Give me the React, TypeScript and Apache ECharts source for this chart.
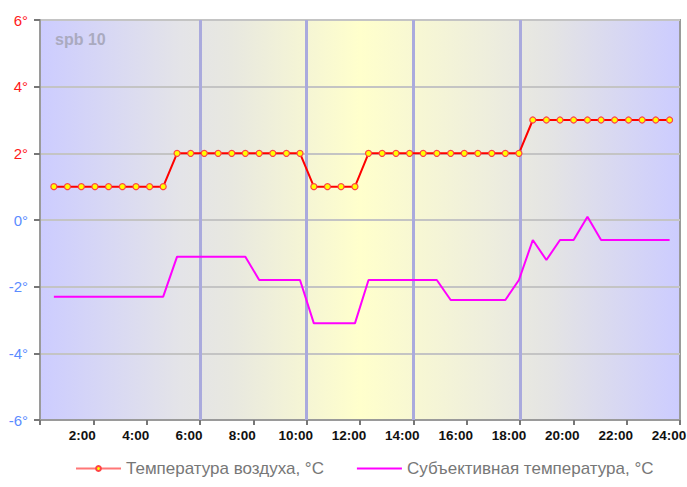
import React, { useEffect, useRef } from "react";
import * as echarts from "echarts";

const times = [
  0.52, 1.03, 1.55, 2.06, 2.57, 3.09, 3.6, 4.11, 4.62, 5.14, 5.65, 6.16, 6.68, 7.19, 7.7, 8.22,
  8.73, 9.24, 9.75, 10.27, 10.78, 11.29, 11.81, 12.32, 12.83, 13.35, 13.86, 14.37, 14.88, 15.4,
  15.91, 16.42, 16.94, 17.45, 17.96, 18.48, 18.99, 19.5, 20.01, 20.53, 21.04, 21.55, 22.07, 22.58,
  23.09, 23.61,
];

const airTemp = [
  1, 1, 1, 1, 1, 1, 1, 1, 1,
  2, 2, 2, 2, 2, 2, 2, 2, 2, 2,
  1, 1, 1, 1,
  2, 2, 2, 2, 2, 2, 2, 2, 2, 2, 2, 2,
  3, 3, 3, 3, 3, 3, 3, 3, 3, 3, 3,
];

const feelTemp = [
  -2.3, -2.3, -2.3, -2.3, -2.3, -2.3, -2.3, -2.3, -2.3,
  -1.1, -1.1, -1.1, -1.1, -1.1, -1.1,
  -1.8, -1.8, -1.8, -1.8,
  -3.1, -3.1, -3.1, -3.1,
  -1.8, -1.8, -1.8, -1.8, -1.8, -1.8,
  -2.4, -2.4, -2.4, -2.4, -2.4,
  -1.8, -0.6, -1.2, -0.6, -0.6, 0.1,
  -0.6, -0.6, -0.6, -0.6, -0.6, -0.6,
];

const dividerHours = [6, 10, 14, 18];
const seriesNames = ["Температура воздуха, °C", "Субъективная температура, °C"];
const stationLabel = "spb 10";

const FONT = "'Liberation Sans', Arial, sans-serif";

export default function App() {
  const ref = useRef<HTMLDivElement>(null);
  useEffect(() => {
    if (!ref.current) return;
    const chart = echarts.init(ref.current, undefined, { renderer: "svg" });
    chart.setOption({
      animation: false,
      textStyle: { fontFamily: FONT },
      grid: {
        left: 40,
        right: 7,
        top: 20,
        bottom: 67,
        outerBoundsMode: "none",
        containLabel: false,
        show: true,
        borderColor: "#9a9a9a",
        borderWidth: 2,
        backgroundColor: {
          type: "linear",
          x: 0,
          y: 0,
          x2: 1,
          y2: 0,
          colorStops: [
            { offset: 0, color: "#ccccff" },
            { offset: 0.22, color: "#e4e4e8" },
            { offset: 0.3, color: "#e8e8e0" },
            { offset: 0.5, color: "#ffffcc" },
            { offset: 0.7, color: "#eeeedd" },
            { offset: 0.8, color: "#e4e4e4" },
            { offset: 1, color: "#ccccff" },
          ],
        },
      },
      graphic: [
        {
          type: "text",
          left: 55,
          top: 31,
          style: {
            text: stationLabel,
            fill: "#aaaabf",
            font: `bold 16px ${FONT}`,
          },
          silent: true,
        },
      ],
      legend: {
        left: 75,
        top: 460,
        padding: 0,
        itemGap: 32,
        itemWidth: 45,
        itemHeight: 6,
        textStyle: { color: "#777777", fontSize: 17, fontFamily: FONT },
        data: [
          { name: seriesNames[0], lineStyle: { color: "#ff7777" } },
          { name: seriesNames[1], itemStyle: { opacity: 0 } },
        ],
      },
      xAxis: {
        type: "value",
        min: 0,
        max: 24,
        interval: 2,
        axisLine: { show: true, onZero: false, lineStyle: { color: "#9a9a9a", width: 2 } },
        axisTick: { show: true, length: 5, lineStyle: { color: "#777", width: 2 } },
        splitLine: { show: false },
        axisLabel: {
          color: "#111",
          fontWeight: "bold",
          fontSize: 13.5,
          fontFamily: FONT,
          margin: 8,
          padding: [0, 22, 0, 0],
          formatter: (v: number) => (v === 0 ? "" : `${v}:00`),
        },
      },
      yAxis: {
        type: "value",
        min: -6,
        max: 6,
        interval: 2,
        axisLine: { show: true, lineStyle: { color: "#9a9a9a", width: 2 } },
        axisTick: { show: true, length: 6, lineStyle: { color: "#777", width: 2 } },
        splitLine: { show: true, lineStyle: { color: "#c4c4c4", width: 2 } },
        axisLabel: {
          margin: 12,
          fontSize: 15,
          fontFamily: FONT,
          formatter: (v: number) => (v > 0 ? `{p|${v}°}` : `{n|${v}°}`),
          rich: {
            p: { color: "#ff1a1a", fontSize: 15, fontFamily: FONT },
            n: { color: "#5b8cff", fontSize: 15, fontFamily: FONT },
          },
        },
      },
      series: [
        {
          name: seriesNames[0],
          type: "line",
          data: times.map((t, i) => [t, airTemp[i]]),
          symbol: "circle",
          symbolSize: 6,
          showAllSymbol: true,
          lineStyle: { color: "#ff0000", width: 2 },
          itemStyle: { color: "#ffff00", borderColor: "#ff4444", borderWidth: 1.2 },
          z: 4,
          markLine: {
            silent: true,
            symbol: "none",
            label: { show: false },
            lineStyle: { color: "#aaaadd", width: 3, type: "solid" },
            data: dividerHours.map((h) => ({ xAxis: h })),
            z: 1,
          },
        },
        {
          name: seriesNames[1],
          type: "line",
          data: times.map((t, i) => [t, feelTemp[i]]),
          symbol: "none",
          lineStyle: { color: "#ff00ff", width: 2 },
          itemStyle: { color: "#ff00ff" },
          z: 3,
        },
      ],
    });
    return () => chart.dispose();
  }, []);
  return <div ref={ref} style={{ width: 687, height: 487, position: "absolute", left: 0, top: 0 }} />;
}
